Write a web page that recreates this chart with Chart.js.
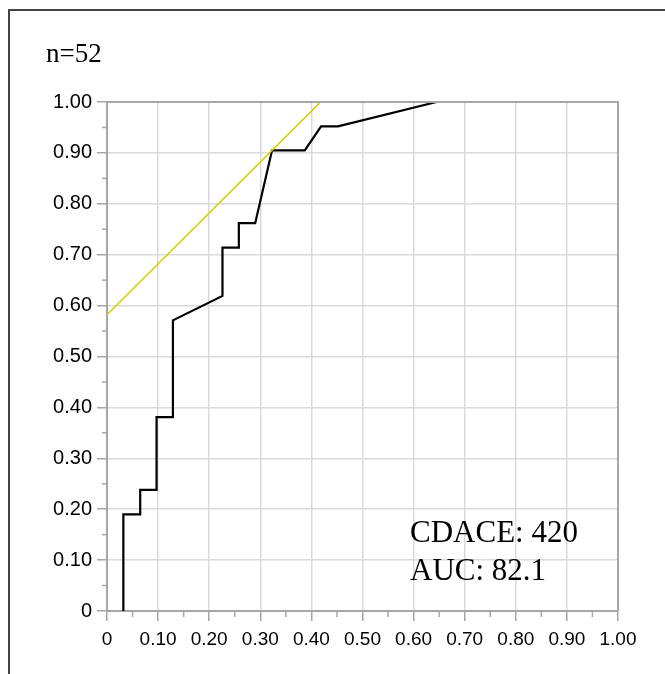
<!DOCTYPE html>
<html><head><meta charset="utf-8">
<script src="https://cdn.jsdelivr.net/npm/chart.js@4.4.0/dist/chart.umd.min.js"></script>
<style>
html,body{margin:0;padding:0;background:#fff;width:665px;height:674px;overflow:hidden;}
#frame{position:absolute;left:8px;top:9px;width:700px;height:700px;border-left:2.5px solid #444;border-top:2.5px solid #444;}
#wrap{position:absolute;left:0;top:0;width:665px;height:674px;}
.note{position:absolute;font-family:'Liberation Serif','Times New Roman',serif;color:#000;line-height:1;white-space:nowrap;}
</style></head>
<body>
<div id="frame"></div>
<div id="wrap"><canvas id="c" width="665" height="674"></canvas></div>
<div class="note" id="nLabel" style="left:46px;top:40px;font-size:27px"></div>
<div class="note" id="cdLabel" style="left:410px;top:516px;font-size:31px"></div>
<div class="note" id="aucLabel" style="left:410px;top:554px;font-size:31px"></div>
<script>
// ROC curve (false positive rate / true positive rate)
const rocFPR = [0.032, 0.032, 0.065, 0.065, 0.097, 0.097, 0.129, 0.129, 0.226, 0.226, 0.258, 0.258, 0.290, 0.323, 0.387, 0.419, 0.452, 0.645, 1.0];
const rocTPR = [0.000, 0.190, 0.190, 0.238, 0.238, 0.381, 0.381, 0.571, 0.619, 0.714, 0.714, 0.762, 0.762, 0.905, 0.905, 0.952, 0.952, 1.000, 1.000];
// tangent (yellow) line
const tanX = [0, 0.418];
const tanY = [0.582, 1.0];
// annotations
const sampleText = 'n=52';
const cutoffText = 'CDACE: 420';
const aucText = 'AUC: 82.1';

document.getElementById('nLabel').textContent = sampleText;
document.getElementById('cdLabel').textContent = cutoffText;
document.getElementById('aucLabel').textContent = aucText;

const toPts = (xs, ys) => xs.map((v, i) => ({x: v, y: ys[i]}));
const isMajor = v => Math.abs(v * 10 - Math.round(v * 10)) < 1e-6;
const fmt = v => isMajor(v) ? (Math.abs(v) < 1e-9 ? '0' : v.toFixed(2)) : '';
const AXIS = '#a6a6a6', GRID = '#dadada';

const minorTicks = {
  id: 'minorTicks',
  afterDraw(chart) {
    const {ctx, chartArea: a, scales: {x, y}} = chart;
    ctx.save();
    ctx.strokeStyle = AXIS; ctx.lineWidth = 1.5;
    x.ticks.forEach(t => {
      if (!isMajor(t.value)) {
        const px = x.getPixelForValue(t.value);
        ctx.beginPath(); ctx.moveTo(px, a.bottom); ctx.lineTo(px, a.bottom + 6); ctx.stroke();
      }
    });
    y.ticks.forEach(t => {
      if (!isMajor(t.value)) {
        const py = y.getPixelForValue(t.value);
        ctx.beginPath(); ctx.moveTo(a.left, py); ctx.lineTo(a.left - 5, py); ctx.stroke();
      }
    });
    ctx.lineWidth = 2;
    ctx.beginPath(); ctx.moveTo(a.left, a.top); ctx.lineTo(a.right, a.top); ctx.lineTo(a.right, a.bottom); ctx.stroke();
    ctx.restore();
  }
};

const tickOpts = size => ({
  stepSize: 0.05, autoSkip: false, maxRotation: 0, minRotation: 0,
  color: '#000', font: {family: "'Liberation Sans', Arial, sans-serif", size: size},
  callback: v => fmt(v)
});
const gridOpts = {
  color: c => isMajor(c.tick.value) ? GRID : 'rgba(0,0,0,0)',
  lineWidth: 1.5, tickLength: 10,
  tickColor: c => isMajor(c.tick.value) ? AXIS : 'rgba(0,0,0,0)', tickWidth: 1.5
};

new Chart(document.getElementById('c'), {
  type: 'scatter',
  data: {
    datasets: [
      {data: toPts(tanX, tanY), showLine: true, borderColor: '#d8cc00', borderWidth: 1.6, pointRadius: 0, tension: 0},
      {data: toPts(rocFPR, rocTPR), showLine: true, borderColor: '#000', borderWidth: 2.2, pointRadius: 0, tension: 0}
    ]
  },
  options: {
    responsive: false, animation: false,
    layout: {padding: {top: 102, right: 47, left: 0, bottom: 0}},
    plugins: {legend: {display: false}, tooltip: {enabled: false}},
    scales: {
      x: {type: 'linear', min: 0, max: 1,
          ticks: Object.assign(tickOpts(19), {padding: 7}),
          grid: gridOpts, border: {color: AXIS, width: 2},
          afterFit: s => { s.height = 63; }},
      y: {type: 'linear', min: 0, max: 1,
          ticks: Object.assign(tickOpts(20), {padding: 5}),
          grid: gridOpts, border: {color: AXIS, width: 2},
          afterFit: s => { s.width = 107; }}
    }
  },
  plugins: [minorTicks]
});
</script>
</body></html>
